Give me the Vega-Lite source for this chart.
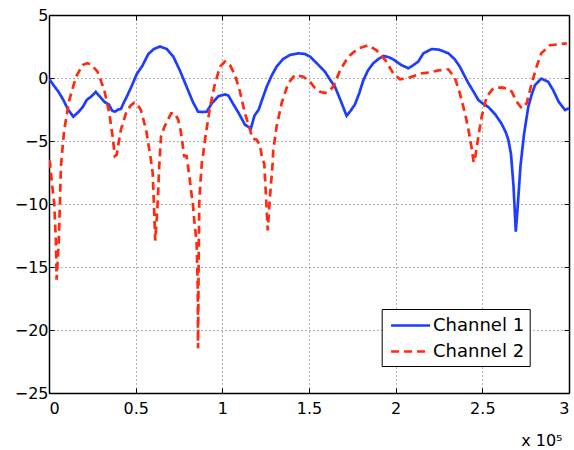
{
  "$schema": "https://vega.github.io/schema/vega-lite/v6.json",
  "width": 520,
  "height": 378,
  "autosize": {"type": "none"},
  "padding": {"left": 49, "top": 15, "right": 5, "bottom": 57},
  "background": "white",
  "config": {
    "view": {"stroke": null},
    "font": "DejaVu Sans",
    "axis": {
      "labelFont": "DejaVu Sans",
      "labelFontSize": 16,
      "labelColor": "black",
      "titleFont": "DejaVu Sans",
      "domainColor": "black",
      "domainWidth": 1.5,
      "tickColor": "black",
      "tickSize": -5,
      "tickWidth": 1
    }
  },
  "datasets": {
    "lines": [
      {"x": 0, "y": -0.05, "channel": "Channel 1"},
      {"x": 2500, "y": -0.55, "channel": "Channel 1"},
      {"x": 5500, "y": -1.1, "channel": "Channel 1"},
      {"x": 8300, "y": -1.75, "channel": "Channel 1"},
      {"x": 11000, "y": -2.5, "channel": "Channel 1"},
      {"x": 14000, "y": -3.07, "channel": "Channel 1"},
      {"x": 17000, "y": -2.7, "channel": "Channel 1"},
      {"x": 19500, "y": -2.3, "channel": "Channel 1"},
      {"x": 21700, "y": -1.75, "channel": "Channel 1"},
      {"x": 24500, "y": -1.45, "channel": "Channel 1"},
      {"x": 27000, "y": -1.1, "channel": "Channel 1"},
      {"x": 29500, "y": -1.5, "channel": "Channel 1"},
      {"x": 32000, "y": -1.9, "channel": "Channel 1"},
      {"x": 34500, "y": -2.1, "channel": "Channel 1"},
      {"x": 36500, "y": -2.6, "channel": "Channel 1"},
      {"x": 38000, "y": -2.67, "channel": "Channel 1"},
      {"x": 40000, "y": -2.5, "channel": "Channel 1"},
      {"x": 41500, "y": -2.46, "channel": "Channel 1"},
      {"x": 43000, "y": -2.0, "channel": "Channel 1"},
      {"x": 44800, "y": -1.5, "channel": "Channel 1"},
      {"x": 47500, "y": -0.7, "channel": "Channel 1"},
      {"x": 50600, "y": 0.3, "channel": "Channel 1"},
      {"x": 54000, "y": 1.0, "channel": "Channel 1"},
      {"x": 57300, "y": 1.9, "channel": "Channel 1"},
      {"x": 60500, "y": 2.3, "channel": "Channel 1"},
      {"x": 64000, "y": 2.5, "channel": "Channel 1"},
      {"x": 68000, "y": 2.3, "channel": "Channel 1"},
      {"x": 71700, "y": 1.7, "channel": "Channel 1"},
      {"x": 75500, "y": 0.6, "channel": "Channel 1"},
      {"x": 79400, "y": -0.7, "channel": "Channel 1"},
      {"x": 83000, "y": -1.9, "channel": "Channel 1"},
      {"x": 86000, "y": -2.67, "channel": "Channel 1"},
      {"x": 88500, "y": -2.7, "channel": "Channel 1"},
      {"x": 91000, "y": -2.67, "channel": "Channel 1"},
      {"x": 94000, "y": -2.0, "channel": "Channel 1"},
      {"x": 97700, "y": -1.45, "channel": "Channel 1"},
      {"x": 101500, "y": -1.3, "channel": "Channel 1"},
      {"x": 103500, "y": -1.4, "channel": "Channel 1"},
      {"x": 106000, "y": -2.0, "channel": "Channel 1"},
      {"x": 109500, "y": -2.8, "channel": "Channel 1"},
      {"x": 113000, "y": -3.7, "channel": "Channel 1"},
      {"x": 116500, "y": -4.0, "channel": "Channel 1"},
      {"x": 118500, "y": -3.0, "channel": "Channel 1"},
      {"x": 121000, "y": -2.5, "channel": "Channel 1"},
      {"x": 123000, "y": -1.7, "channel": "Channel 1"},
      {"x": 125600, "y": -0.69, "channel": "Channel 1"},
      {"x": 128500, "y": 0.2, "channel": "Channel 1"},
      {"x": 131300, "y": 0.9, "channel": "Channel 1"},
      {"x": 135000, "y": 1.5, "channel": "Channel 1"},
      {"x": 139000, "y": 1.83, "channel": "Channel 1"},
      {"x": 144000, "y": 1.96, "channel": "Channel 1"},
      {"x": 147700, "y": 1.9, "channel": "Channel 1"},
      {"x": 150600, "y": 1.7, "channel": "Channel 1"},
      {"x": 155000, "y": 1.1, "channel": "Channel 1"},
      {"x": 159200, "y": 0.5, "channel": "Channel 1"},
      {"x": 162000, "y": -0.1, "channel": "Channel 1"},
      {"x": 165000, "y": -0.7, "channel": "Channel 1"},
      {"x": 168000, "y": -1.7, "channel": "Channel 1"},
      {"x": 171700, "y": -3.0, "channel": "Channel 1"},
      {"x": 174000, "y": -2.6, "channel": "Channel 1"},
      {"x": 176500, "y": -2.1, "channel": "Channel 1"},
      {"x": 179000, "y": -1.2, "channel": "Channel 1"},
      {"x": 181300, "y": -0.2, "channel": "Channel 1"},
      {"x": 184000, "y": 0.6, "channel": "Channel 1"},
      {"x": 187000, "y": 1.16, "channel": "Channel 1"},
      {"x": 190000, "y": 1.5, "channel": "Channel 1"},
      {"x": 193000, "y": 1.75, "channel": "Channel 1"},
      {"x": 196000, "y": 1.65, "channel": "Channel 1"},
      {"x": 198600, "y": 1.48, "channel": "Channel 1"},
      {"x": 203000, "y": 1.05, "channel": "Channel 1"},
      {"x": 207300, "y": 0.77, "channel": "Channel 1"},
      {"x": 210000, "y": 1.0, "channel": "Channel 1"},
      {"x": 213000, "y": 1.3, "channel": "Channel 1"},
      {"x": 216000, "y": 1.96, "channel": "Channel 1"},
      {"x": 220800, "y": 2.3, "channel": "Channel 1"},
      {"x": 225000, "y": 2.25, "channel": "Channel 1"},
      {"x": 230400, "y": 1.96, "channel": "Channel 1"},
      {"x": 234000, "y": 1.5, "channel": "Channel 1"},
      {"x": 237000, "y": 0.9, "channel": "Channel 1"},
      {"x": 240000, "y": 0.1, "channel": "Channel 1"},
      {"x": 242000, "y": -0.42, "channel": "Channel 1"},
      {"x": 245000, "y": -1.1, "channel": "Channel 1"},
      {"x": 247700, "y": -1.75, "channel": "Channel 1"},
      {"x": 250500, "y": -2.05, "channel": "Channel 1"},
      {"x": 253500, "y": -2.3, "channel": "Channel 1"},
      {"x": 257500, "y": -2.9, "channel": "Channel 1"},
      {"x": 261000, "y": -3.6, "channel": "Channel 1"},
      {"x": 263500, "y": -4.3, "channel": "Channel 1"},
      {"x": 265000, "y": -4.9, "channel": "Channel 1"},
      {"x": 266500, "y": -6.0, "channel": "Channel 1"},
      {"x": 268000, "y": -8.6, "channel": "Channel 1"},
      {"x": 269300, "y": -12.2, "channel": "Channel 1"},
      {"x": 270500, "y": -10.0, "channel": "Channel 1"},
      {"x": 272000, "y": -7.0, "channel": "Channel 1"},
      {"x": 274000, "y": -4.5, "channel": "Channel 1"},
      {"x": 276500, "y": -2.3, "channel": "Channel 1"},
      {"x": 278500, "y": -1.3, "channel": "Channel 1"},
      {"x": 280400, "y": -0.56, "channel": "Channel 1"},
      {"x": 284000, "y": -0.05, "channel": "Channel 1"},
      {"x": 288000, "y": -0.3, "channel": "Channel 1"},
      {"x": 291000, "y": -1.0, "channel": "Channel 1"},
      {"x": 294000, "y": -1.88, "channel": "Channel 1"},
      {"x": 297700, "y": -2.54, "channel": "Channel 1"},
      {"x": 300000, "y": -2.4, "channel": "Channel 1"},

      {"x": 0, "y": -6.5, "channel": "Channel 2"},
      {"x": 600, "y": -6.8, "channel": "Channel 2"},
      {"x": 1800, "y": -8.5, "channel": "Channel 2"},
      {"x": 3000, "y": -9.9, "channel": "Channel 2"},
      {"x": 4000, "y": -13.1, "channel": "Channel 2"},
      {"x": 4400, "y": -16.0, "channel": "Channel 2"},
      {"x": 5000, "y": -14.5, "channel": "Channel 2"},
      {"x": 5600, "y": -13.1, "channel": "Channel 2"},
      {"x": 6300, "y": -9.9, "channel": "Channel 2"},
      {"x": 6900, "y": -7.0, "channel": "Channel 2"},
      {"x": 7500, "y": -6.0, "channel": "Channel 2"},
      {"x": 8800, "y": -4.1, "channel": "Channel 2"},
      {"x": 11700, "y": -1.75, "channel": "Channel 2"},
      {"x": 15600, "y": 0.1, "channel": "Channel 2"},
      {"x": 19400, "y": 1.03, "channel": "Channel 2"},
      {"x": 22000, "y": 1.18, "channel": "Channel 2"},
      {"x": 24000, "y": 1.1, "channel": "Channel 2"},
      {"x": 28000, "y": 0.5, "channel": "Channel 2"},
      {"x": 31900, "y": -0.95, "channel": "Channel 2"},
      {"x": 34800, "y": -2.8, "channel": "Channel 2"},
      {"x": 36700, "y": -4.66, "channel": "Channel 2"},
      {"x": 38000, "y": -6.2, "channel": "Channel 2"},
      {"x": 39000, "y": -6.1, "channel": "Channel 2"},
      {"x": 40000, "y": -5.3, "channel": "Channel 2"},
      {"x": 41500, "y": -4.1, "channel": "Channel 2"},
      {"x": 44400, "y": -2.8, "channel": "Channel 2"},
      {"x": 47000, "y": -2.2, "channel": "Channel 2"},
      {"x": 49200, "y": -1.96, "channel": "Channel 2"},
      {"x": 51000, "y": -2.1, "channel": "Channel 2"},
      {"x": 53000, "y": -2.54, "channel": "Channel 2"},
      {"x": 56000, "y": -4.1, "channel": "Channel 2"},
      {"x": 58800, "y": -6.5, "channel": "Channel 2"},
      {"x": 59800, "y": -7.5, "channel": "Channel 2"},
      {"x": 60500, "y": -9.9, "channel": "Channel 2"},
      {"x": 61300, "y": -12.9, "channel": "Channel 2"},
      {"x": 62000, "y": -11.5, "channel": "Channel 2"},
      {"x": 62700, "y": -9.9, "channel": "Channel 2"},
      {"x": 63600, "y": -7.0, "channel": "Channel 2"},
      {"x": 64600, "y": -4.66, "channel": "Channel 2"},
      {"x": 66500, "y": -3.9, "channel": "Channel 2"},
      {"x": 68500, "y": -3.33, "channel": "Channel 2"},
      {"x": 70500, "y": -2.8, "channel": "Channel 2"},
      {"x": 72700, "y": -2.8, "channel": "Channel 2"},
      {"x": 74500, "y": -3.3, "channel": "Channel 2"},
      {"x": 76000, "y": -4.2, "channel": "Channel 2"},
      {"x": 78000, "y": -6.2, "channel": "Channel 2"},
      {"x": 79400, "y": -6.2, "channel": "Channel 2"},
      {"x": 81000, "y": -7.8, "channel": "Channel 2"},
      {"x": 81900, "y": -8.9, "channel": "Channel 2"},
      {"x": 83000, "y": -10.0, "channel": "Channel 2"},
      {"x": 83800, "y": -11.3, "channel": "Channel 2"},
      {"x": 85200, "y": -13.1, "channel": "Channel 2"},
      {"x": 85800, "y": -16.6, "channel": "Channel 2"},
      {"x": 86000, "y": -21.45, "channel": "Channel 2"},
      {"x": 86300, "y": -15.2, "channel": "Channel 2"},
      {"x": 86700, "y": -9.9, "channel": "Channel 2"},
      {"x": 87500, "y": -8.0, "channel": "Channel 2"},
      {"x": 88300, "y": -6.5, "channel": "Channel 2"},
      {"x": 89000, "y": -6.0, "channel": "Channel 2"},
      {"x": 90000, "y": -4.9, "channel": "Channel 2"},
      {"x": 92900, "y": -2.3, "channel": "Channel 2"},
      {"x": 95800, "y": -0.42, "channel": "Channel 2"},
      {"x": 98700, "y": 0.9, "channel": "Channel 2"},
      {"x": 101500, "y": 1.3, "channel": "Channel 2"},
      {"x": 104400, "y": 1.03, "channel": "Channel 2"},
      {"x": 107300, "y": 0.24, "channel": "Channel 2"},
      {"x": 110200, "y": -1.09, "channel": "Channel 2"},
      {"x": 113000, "y": -2.8, "channel": "Channel 2"},
      {"x": 116000, "y": -4.1, "channel": "Channel 2"},
      {"x": 117300, "y": -4.8, "channel": "Channel 2"},
      {"x": 119800, "y": -4.9, "channel": "Channel 2"},
      {"x": 121700, "y": -5.3, "channel": "Channel 2"},
      {"x": 123000, "y": -6.4, "channel": "Channel 2"},
      {"x": 124200, "y": -6.8, "channel": "Channel 2"},
      {"x": 125200, "y": -9.4, "channel": "Channel 2"},
      {"x": 126200, "y": -12.1, "channel": "Channel 2"},
      {"x": 127500, "y": -9.4, "channel": "Channel 2"},
      {"x": 129000, "y": -6.8, "channel": "Channel 2"},
      {"x": 129400, "y": -5.7, "channel": "Channel 2"},
      {"x": 131300, "y": -3.86, "channel": "Channel 2"},
      {"x": 134200, "y": -2.0, "channel": "Channel 2"},
      {"x": 138000, "y": -0.42, "channel": "Channel 2"},
      {"x": 141900, "y": 0.24, "channel": "Channel 2"},
      {"x": 146700, "y": 0.1, "channel": "Channel 2"},
      {"x": 150600, "y": -0.3, "channel": "Channel 2"},
      {"x": 153500, "y": -0.8, "channel": "Channel 2"},
      {"x": 156500, "y": -1.1, "channel": "Channel 2"},
      {"x": 159200, "y": -1.2, "channel": "Channel 2"},
      {"x": 161500, "y": -1.05, "channel": "Channel 2"},
      {"x": 164000, "y": -0.69, "channel": "Channel 2"},
      {"x": 168000, "y": 0.63, "channel": "Channel 2"},
      {"x": 172700, "y": 1.7, "channel": "Channel 2"},
      {"x": 178500, "y": 2.35, "channel": "Channel 2"},
      {"x": 184200, "y": 2.6, "channel": "Channel 2"},
      {"x": 189000, "y": 2.2, "channel": "Channel 2"},
      {"x": 194000, "y": 1.43, "channel": "Channel 2"},
      {"x": 198600, "y": 0.37, "channel": "Channel 2"},
      {"x": 202500, "y": -0.1, "channel": "Channel 2"},
      {"x": 208300, "y": 0.05, "channel": "Channel 2"},
      {"x": 215000, "y": 0.37, "channel": "Channel 2"},
      {"x": 220000, "y": 0.45, "channel": "Channel 2"},
      {"x": 224600, "y": 0.6, "channel": "Channel 2"},
      {"x": 230400, "y": 0.69, "channel": "Channel 2"},
      {"x": 234200, "y": 0.0, "channel": "Channel 2"},
      {"x": 237000, "y": -1.2, "channel": "Channel 2"},
      {"x": 240000, "y": -2.8, "channel": "Channel 2"},
      {"x": 242000, "y": -4.1, "channel": "Channel 2"},
      {"x": 244000, "y": -5.7, "channel": "Channel 2"},
      {"x": 245000, "y": -6.7, "channel": "Channel 2"},
      {"x": 246000, "y": -6.2, "channel": "Channel 2"},
      {"x": 247700, "y": -4.66, "channel": "Channel 2"},
      {"x": 249600, "y": -3.07, "channel": "Channel 2"},
      {"x": 252500, "y": -1.48, "channel": "Channel 2"},
      {"x": 256300, "y": -0.82, "channel": "Channel 2"},
      {"x": 261000, "y": -0.74, "channel": "Channel 2"},
      {"x": 264500, "y": -0.85, "channel": "Channel 2"},
      {"x": 267000, "y": -1.09, "channel": "Channel 2"},
      {"x": 269800, "y": -1.88, "channel": "Channel 2"},
      {"x": 272700, "y": -2.4, "channel": "Channel 2"},
      {"x": 275600, "y": -2.0, "channel": "Channel 2"},
      {"x": 278500, "y": -0.42, "channel": "Channel 2"},
      {"x": 281300, "y": 0.9, "channel": "Channel 2"},
      {"x": 284000, "y": 1.96, "channel": "Channel 2"},
      {"x": 289000, "y": 2.6, "channel": "Channel 2"},
      {"x": 293800, "y": 2.67, "channel": "Channel 2"},
      {"x": 298700, "y": 2.75, "channel": "Channel 2"}
    ]
  },
  "data": {"name": "lines"},
  "layer": [
    {
      "mark": {"type": "line", "strokeWidth": 2.7, "clip": true},
      "encoding": {
        "x": {
          "field": "x", "type": "quantitative",
          "scale": {"domain": [0, 300000], "nice": false, "zero": false},
          "axis": {
            "orient": "bottom",
            "values": [0, 50000, 100000, 150000, 200000, 250000, 300000],
            "labelExpr": "format(datum.value / 100000, '~g')",
            "labelPadding": 12,
            "grid": true, "gridDash": [1, 3], "gridColor": "#666", "gridWidth": 1,
            "title": "x 10⁵",
            "titleFontSize": 16, "titleFontWeight": "normal",
            "titleAnchor": "end", "titleAlign": "right", "titleX": 513, "titleY": 52,
            "titleBaseline": "alphabetic"
          }
        },
        "y": {
          "field": "y", "type": "quantitative",
          "scale": {"domain": [-25, 5], "nice": false, "zero": false},
          "axis": {
            "orient": "left",
            "values": [-25, -20, -15, -10, -5, 0, 5],
            "labelPadding": 6,
            "grid": true, "gridDash": [1, 3], "gridColor": "#666", "gridWidth": 1,
            "title": null
          }
        },
        "color": {
          "field": "channel", "type": "nominal",
          "scale": {"domain": ["Channel 1", "Channel 2"], "range": ["#1f3dff", "#ff2a10"]},
          "legend": {
            "title": null,
            "orient": "none",
            "legendX": 332.7,
            "legendY": 294,
            "direction": "vertical",
            "fillColor": "white",
            "strokeColor": "black",
            "padding": 5,
            "labelFont": "DejaVu Sans",
            "labelFontSize": 18,
            "labelColor": "black",
            "labelOffset": 11,
            "rowPadding": 5,
            "symbolType": "M-2,0H2",
            "symbolSize": 380,
            "symbolOffset": 12.35,
            "symbolStrokeWidth": 2.7
          }
        },
        "strokeDash": {
          "field": "channel", "type": "nominal",
          "scale": {"domain": ["Channel 1", "Channel 2"], "range": [[1, 0], [8, 5]]},
          "legend": {
            "title": null,
            "orient": "none",
            "legendX": 332.7,
            "legendY": 294,
            "direction": "vertical",
            "fillColor": "white",
            "strokeColor": "black",
            "padding": 5,
            "labelFont": "DejaVu Sans",
            "labelFontSize": 18,
            "labelColor": "black",
            "labelOffset": 11,
            "rowPadding": 5,
            "symbolType": "M-2,0H2",
            "symbolSize": 380,
            "symbolOffset": 12.35,
            "symbolStrokeWidth": 2.7
          }
        }
      }
    },
    {
      "mark": {"type": "line", "strokeOpacity": 0},
      "encoding": {
        "x": {
          "field": "x", "type": "quantitative",
          "axis": {
            "orient": "top",
            "values": [0, 50000, 100000, 150000, 200000, 250000, 300000],
            "labels": false, "grid": false, "title": null
          }
        },
        "y": {
          "field": "y", "type": "quantitative",
          "axis": {
            "orient": "right",
            "values": [-25, -20, -15, -10, -5, 0, 5],
            "labels": false, "grid": false, "title": null
          }
        },
        "detail": {"field": "channel", "type": "nominal"}
      }
    }
  ],
  "resolve": {"axis": {"x": "independent", "y": "independent"}}
}
